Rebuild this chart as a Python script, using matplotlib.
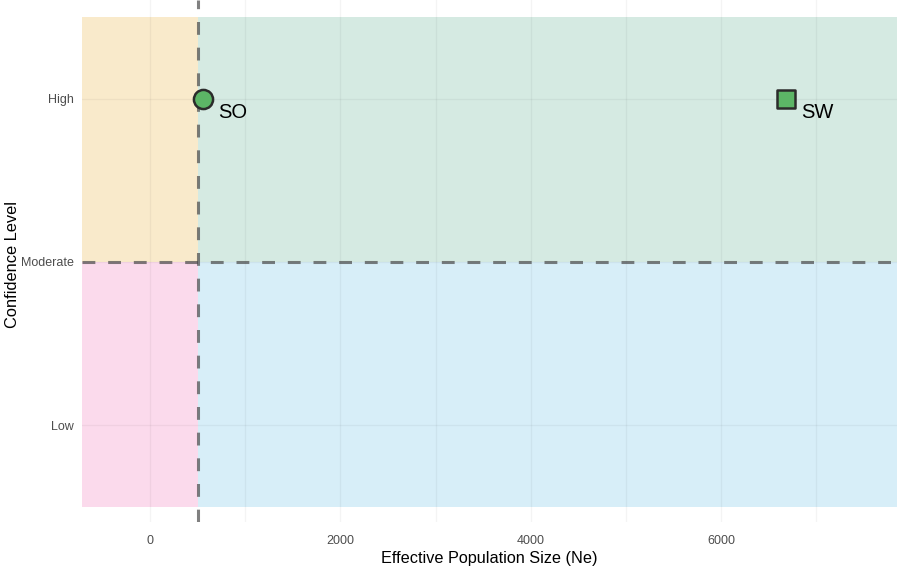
import matplotlib
matplotlib.use("Agg")
import matplotlib.pyplot as plt
from matplotlib.patches import Rectangle

plt.rcParams['font.family'] = ['Liberation Sans', 'DejaVu Sans']

# populations
pops = ["SO", "SW"]
ne_values = [560, 6680]
confidence = [3, 3]          # 1 = Low, 2 = Moderate, 3 = High
markers = ["o", "s"]

level_names = ["Low", "Moderate", "High"]
level_ticks = [1, 2, 3]
x_ticks = [0, 2000, 4000, 6000]
x_minor = [1000, 3000, 5000, 7000]

ne_threshold = 500
conf_threshold = 2

# quadrant fills: (x0, x1, y0, y1, colour)
xmin, xmax = -714, 7846
quadrants = [
    (xmin, ne_threshold, conf_threshold, 3.5, "#f9eacb"),
    (ne_threshold, xmax, conf_threshold, 3.5, "#d5eae2"),
    (xmin, ne_threshold, 0.5, conf_threshold, "#fbdaec"),
    (ne_threshold, xmax, 0.5, conf_threshold, "#d7eef8"),
]

fig = plt.figure(figsize=(8.98, 5.67), dpi=100)
ax = fig.add_axes([82 / 898, 1 - 522 / 567, 815 / 898, 522 / 567])

for x0, x1, y0, y1, c in quadrants:
    ax.add_patch(Rectangle((x0, y0), x1 - x0, y1 - y0, facecolor=c,
                           edgecolor="none", zorder=0))

# grid drawn over the fills, translucent so it darkens them slightly
grid_kw = dict(color=(0, 0, 0, 0.045), lw=1.0, zorder=1)
for x in x_ticks + x_minor:
    ax.axvline(x, **grid_kw)
for y in level_ticks:
    ax.axhline(y, **grid_kw)

dash = (0, (4.2, 4.2))
ax.axvline(ne_threshold, color="#4a4a4a", alpha=0.7, lw=2.2, ls=dash, zorder=2)
ax.axhline(conf_threshold, color="#4a4a4a", alpha=0.7, lw=2.2, ls=dash, zorder=2)

for name, ne, cf, m in zip(pops, ne_values, confidence, markers):
    ax.scatter(ne, cf, marker=m, s=190 if m == "o" else 170, color="#5cb566",
               edgecolors="#2b2b2b", linewidths=1.8, zorder=3)
    ax.annotate(name, (ne, cf), xytext=(11, -10), textcoords="offset points",
                ha="left", va="center", fontsize=14.5, color="black", zorder=4)

ax.set_xlim(xmin, xmax)
ax.set_ylim(0.405, 3.607)
ax.set_xticks(x_ticks)
ax.set_xticklabels([str(v) for v in x_ticks])
ax.set_yticks(level_ticks)
ax.set_yticklabels(level_names)
ax.tick_params(length=0, labelsize=9, labelcolor="#4d4d4d")
ax.tick_params(axis="x", pad=9)
ax.tick_params(axis="y", pad=6)
for s in ax.spines.values():
    s.set_visible(False)

ax.set_xlabel("Effective Population Size (Ne)", fontsize=11.7, labelpad=3)
ax.set_ylabel("Confidence Level", fontsize=11.8)
ax.yaxis.set_label_coords(-0.076, 0.494)

fig.savefig("out.png", dpi=100)
